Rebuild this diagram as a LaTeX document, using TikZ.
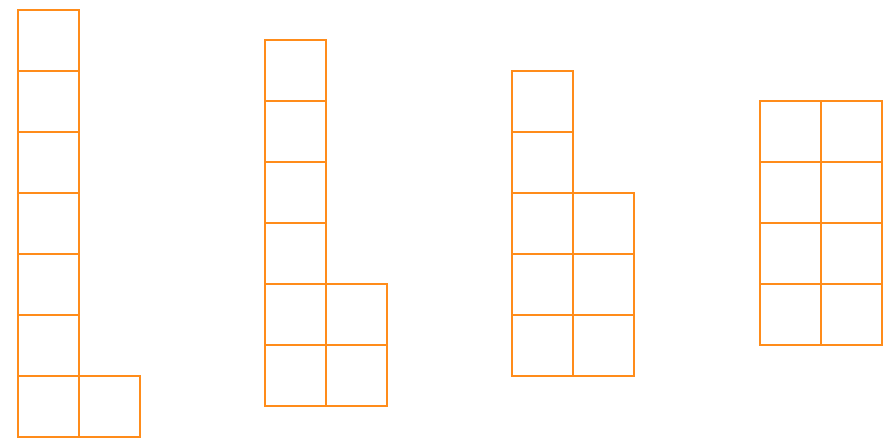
\documentclass[tikz,border=0pt]{standalone}
\usepackage{xcolor}
\definecolor{cellorange}{RGB}{255,140,26}
\usepackage{tikz}

\begin{document}
\begin{tikzpicture}[
  x=1pt, y=-1pt,
  cellbox/.style={draw=cellorange, line width=2pt, line join=miter}
]
  \useasboundingbox (0,0) rectangle (890,438);
  % shape 1: seven high, one to the right
  \foreach \r in {0,...,6}
    \draw[cellbox] (18,{10+61*\r}) rectangle ++(61,61);
  \draw[cellbox] (79,376) rectangle ++(61,61);
  % shape 2: six high, two to the right
  \foreach \r in {0,...,5}
    \draw[cellbox] (265,{40+61*\r}) rectangle ++(61,61);
  \foreach \r in {4,5}
    \draw[cellbox] (326,{40+61*\r}) rectangle ++(61,61);
  % shape 3: five high, three to the right
  \foreach \r in {0,...,4}
    \draw[cellbox] (512,{71+61*\r}) rectangle ++(61,61);
  \foreach \r in {2,3,4}
    \draw[cellbox] (573,{71+61*\r}) rectangle ++(61,61);
  % shape 4: two by four
  \foreach \c in {0,1}
    \foreach \r in {0,...,3}
      \draw[cellbox] ({760+61*\c},{101+61*\r}) rectangle ++(61,61);
\end{tikzpicture}
\end{document}
